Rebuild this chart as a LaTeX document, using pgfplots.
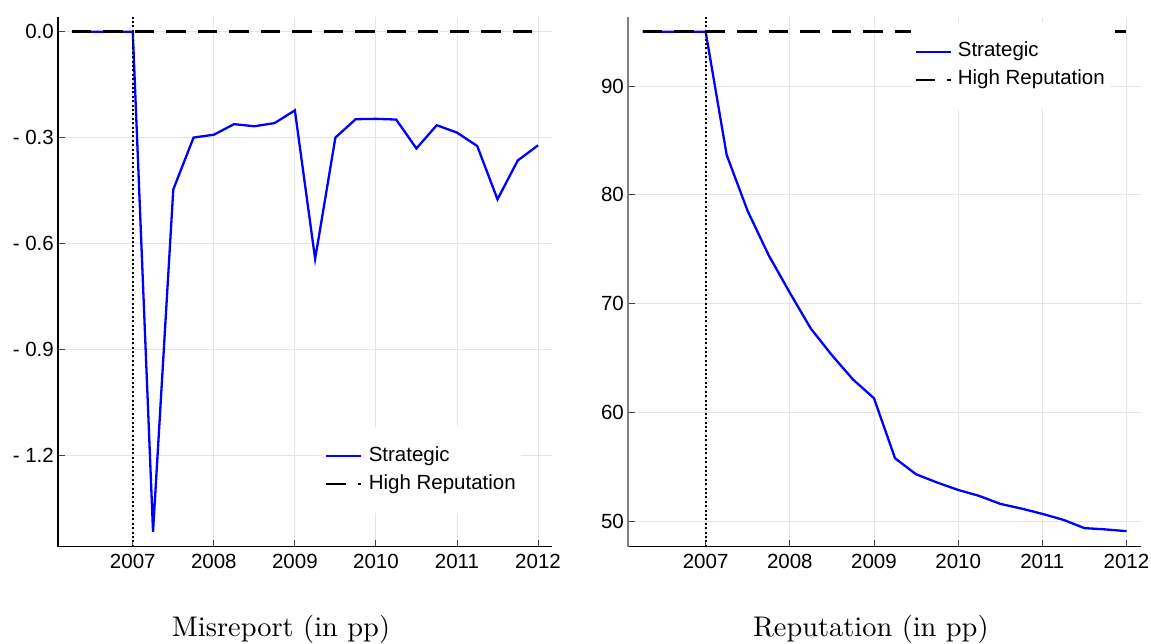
\documentclass[border=0pt]{standalone}
\usepackage{pgfplots}
\pgfplotsset{compat=1.18}
\usepackage{fontspec}
\setsansfont{Liberation Sans}
\newfontfamily\titlefont{lmroman10-regular}[Extension=.otf]
\newcommand{\tickfont}{\sffamily\fontsize{20.5}{24}\selectfont}
\begin{document}
\begin{tikzpicture}
\useasboundingbox (0,0) rectangle (1151pt,643pt);
\pgfplotsset{
  myax/.style={
    scale only axis, anchor=south west, height=530pt,
    axis lines=left, axis line style={-, black, line width=1.2pt},
    tick align=inside, major tick length=7pt,
    major tick style={black!75, line width=0.9pt},
    grid=major, major grid style={black!10, line width=0.9pt},
    xmin=2006.0775, xmax=2012.1725,
    xtick={2007,2008,2009,2010,2011,2012},
    xticklabels={2007,2008,2009,2010,2011,2012},
    tick label style={font=\tickfont, inner sep=0pt},
    xticklabel style={yshift=-7.5pt},
    yticklabel style={xshift=-4pt},
    legend style={draw=none, fill=white, anchor=west, inner xsep=3pt, inner ysep=17pt,
      font=\tickfont, row sep=4pt,
      nodes={inner sep=2pt, text height=15pt, text depth=5pt},
      /tikz/every odd column/.append style={column sep=4pt}},
    legend cell align=left,
    legend image code/.code={\draw[##1] (0pt,0pt) -- (35pt,0pt);},
  },
  strat/.style={blue, line width=2.3pt},
  highrep/.style={black, line width=2.6pt, dash pattern=on 19.5pt off 12pt},
  vdot/.style={black, line width=2.2pt, dash pattern=on 2pt off 2.4pt},
}
% Left panel: Misreport
\begin{axis}[myax, at={(58pt,96.3pt)}, width=494pt,
  ymin=-1.4595, ymax=0.0425,
  ytick={-1.2,-0.9,-0.6,-0.3,0},
  yticklabels={- 1.2,- 0.9,- 0.6,- 0.3,0.0},
  legend style={at={(0.5344,0.1447)}},
]
\addplot[strat] coordinates {
(2006.25,0) (2006.5,0) (2006.75,0) (2007,0)
(2007.25,-1.417) (2007.5,-0.447) (2007.75,-0.300) (2008,-0.292)
(2008.25,-0.262) (2008.5,-0.268) (2008.75,-0.259) (2009,-0.223)
(2009.25,-0.644) (2009.5,-0.300) (2009.75,-0.248) (2010,-0.247)
(2010.25,-0.249) (2010.5,-0.331) (2010.75,-0.265) (2011,-0.286)
(2011.25,-0.324) (2011.5,-0.475) (2011.75,-0.365) (2012,-0.322)
};
\addlegendentry{Strategic}
\addplot[highrep] coordinates {(2006.25,0) (2012,0)};
\addlegendentry{High Reputation}
\addplot[vdot, forget plot] coordinates {(2007,-1.4595) (2007,0.0425)};
\end{axis}
% Right panel: Reputation
\begin{axis}[myax, at={(628pt,96.3pt)}, width=513pt,
  ymin=47.65, ymax=96.38,
  ytick={50,60,70,80,90},
  yticklabels={50,60,70,80,90},
  y axis line style={draw=black!50, line width=2pt},
  legend style={at={(0.5517,0.907)}},
]
\addplot[strat] coordinates {
(2006.25,95) (2006.5,95) (2006.75,95) (2007,95)
(2007.25,83.66) (2007.5,78.5) (2007.75,74.43) (2008,71.0)
(2008.25,67.7) (2008.5,65.26) (2008.75,63.03) (2009,61.3)
(2009.25,55.78) (2009.5,54.31) (2009.75,53.55) (2010,52.87)
(2010.25,52.32) (2010.5,51.59) (2010.75,51.16) (2011,50.67)
(2011.25,50.12) (2011.5,49.36) (2011.75,49.24) (2012,49.08)
};
\addlegendentry{Strategic}
\addplot[highrep] coordinates {(2006.25,95) (2012,95)};
\addlegendentry{High Reputation}
\addplot[vdot, forget plot] coordinates {(2007,47.65) (2007,96.38)};
\end{axis}
\node[anchor=base, font=\titlefont\fontsize{28.4}{32}\selectfont] at (281pt,6.3pt) {Misreport (in pp)};
\node[anchor=base, font=\titlefont\fontsize{28.4}{32}\selectfont] at (870.8pt,6.3pt) {Reputation (in pp)};
\end{tikzpicture}
\end{document}
